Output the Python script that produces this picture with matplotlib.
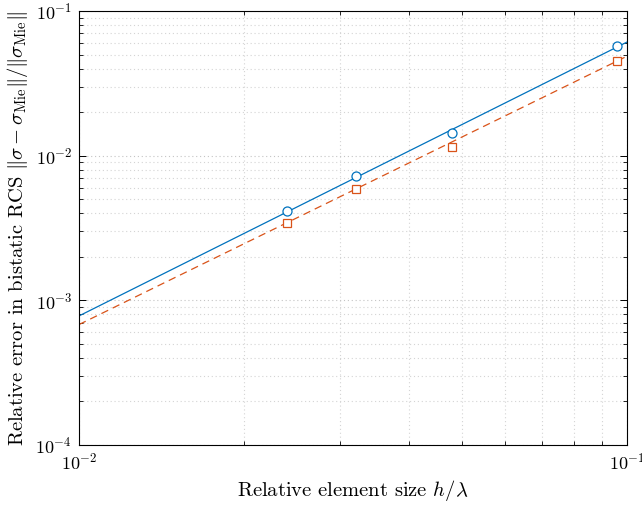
import matplotlib
matplotlib.use('Agg')
import matplotlib.pyplot as plt
from matplotlib.ticker import NullFormatter

plt.rcParams['font.family'] = 'serif'
plt.rcParams['font.serif'] = ['cmr10', 'DejaVu Serif']
plt.rcParams['mathtext.fontset'] = 'cm'
plt.rcParams['axes.formatter.use_mathtext'] = True
plt.rcParams['axes.unicode_minus'] = False

# data
h = [0.024, 0.032, 0.048, 0.096]
err_a = [0.00414, 0.00723, 0.01433, 0.0572]
err_b = [0.00342, 0.00588, 0.01146, 0.0451]

# fitted trend lines (end points)
fit_x = [0.01, 0.1]
fit_a = [7.8e-4, 0.0610]
fit_b = [6.8e-4, 0.0487]

blue = '#0072BD'
orange = '#D95319'

fig = plt.figure(figsize=(6.42, 5.05), dpi=100)
ax = fig.add_axes([0.123, 0.1188, 0.8536, 0.8594])

ax.loglog(fit_x, fit_a, '-', color=blue, lw=0.9)
ax.loglog(fit_x, fit_b, '--', color=orange, lw=0.9, dashes=(6, 4))
ax.loglog(h, err_a, 'o', color=blue, mfc='white', ms=6.5, mew=0.9)
ax.loglog(h, err_b, 's', color=orange, mfc='white', ms=5.5, mew=0.9)

ax.set_xlim(1e-2, 1e-1)
ax.set_ylim(1e-4, 1e-1)
ax.xaxis.set_minor_formatter(NullFormatter())
ax.yaxis.set_minor_formatter(NullFormatter())

ax.grid(True, which='major', ls=(0, (1, 2.5)), color='#c4c4c4', lw=0.8)
ax.grid(True, which='minor', ls=(0, (1, 2.5)), color='#d4d4d4', lw=0.8)
ax.tick_params(which='both', direction='in', top=True, right=True, labelsize=13)
ax.tick_params(which='major', length=5, width=0.7, pad=5)
ax.tick_params(which='minor', length=3, width=0.6)
for s in ax.spines.values():
    s.set_linewidth(0.8)

ax.set_xlabel(r'Relative element size $h/\lambda$', fontsize=14.8)
ax.set_ylabel(r'Relative error in bistatic RCS $\Vert\sigma - \sigma_{\mathrm{Mie}}\Vert / \Vert\sigma_{\mathrm{Mie}}\Vert$',
              fontsize=14.8)
ax.xaxis.set_label_coords(0.5, -0.077)
ax.yaxis.set_label_coords(-0.089, 0.5)

fig.savefig('out.png', dpi=100)
